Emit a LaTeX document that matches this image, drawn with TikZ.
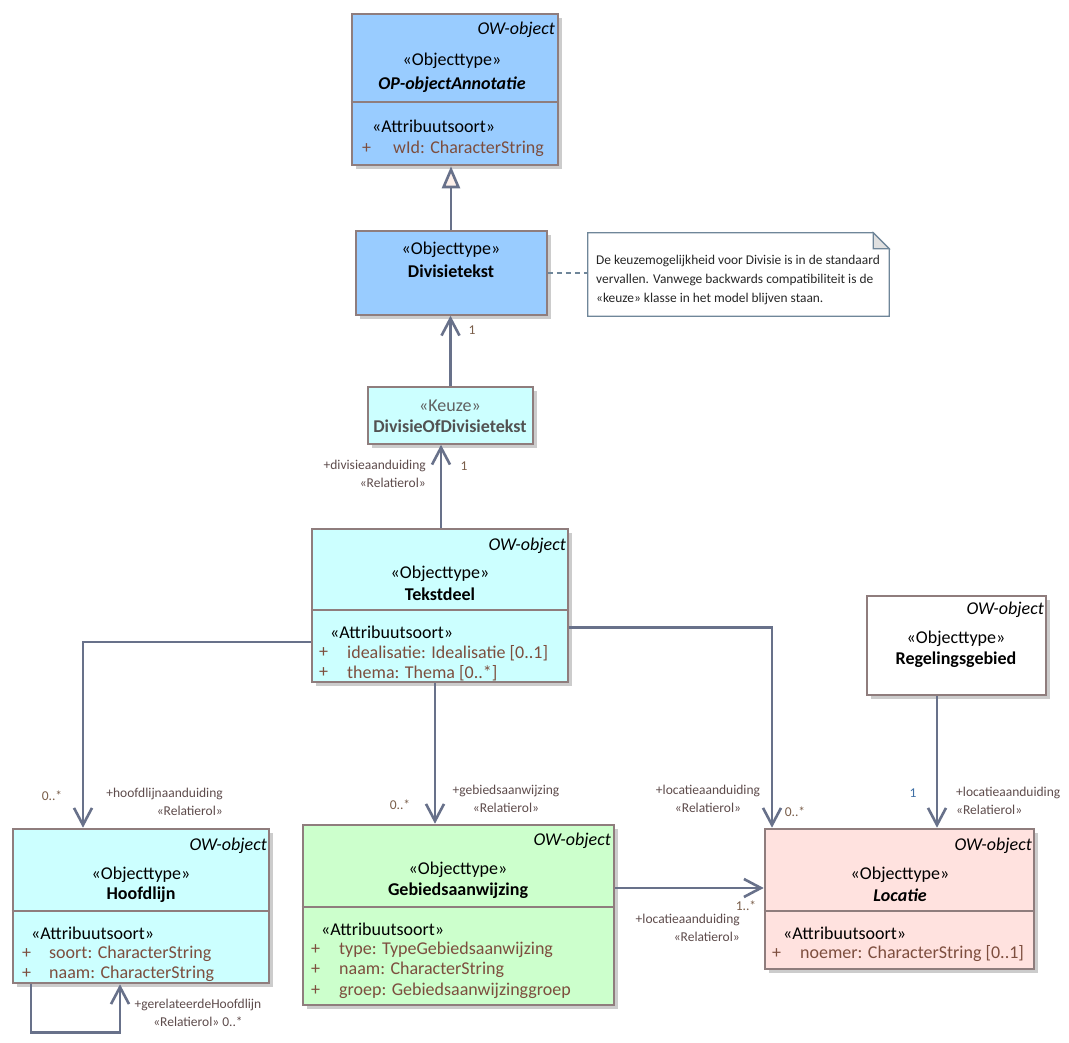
\documentclass[tikz,border=0pt]{standalone}
\usepackage{fontspec}
\setmainfont{Carlito}
\usetikzlibrary{arrows.meta,positioning,shadows}
\definecolor{umlline}{HTML}{68718A}
\definecolor{umlborder}{HTML}{8F7D7D}
\definecolor{fillblue}{HTML}{99CCFF}
\definecolor{fillcyan}{HTML}{CCFFFF}
\definecolor{fillgreen}{HTML}{CCFFCC}
\definecolor{fillpink}{HTML}{FFE2DF}
\definecolor{attrbrown}{HTML}{7D4E3E}
\definecolor{rolegray}{HTML}{5E4C4C}
\definecolor{multbrown}{HTML}{7A5E4A}
\definecolor{multblue}{HTML}{3F6FA5}
\definecolor{noteline}{HTML}{6F8699}
\definecolor{trifill}{HTML}{FDF0EA}

\begin{document}
\begin{tikzpicture}[x=1pt, y=-1pt,
  owclass/.style={draw=umlborder, line width=2.6pt, inner sep=0pt, drop shadow={shadow xshift=4pt, shadow yshift=-4pt, fill=black!20, opacity=1}},
  plainclass/.style={draw=umlborder, line width=1.6pt, inner sep=0pt, drop shadow={shadow xshift=4pt, shadow yshift=-4pt, fill=black!20, opacity=1}},
  divider/.style={draw=umlborder, line width=2.6pt},
  owtag/.style={font=\fontsize{18}{21}\selectfont\itshape, inner sep=0pt, anchor=east},
  stereo/.style={font=\fontsize{18}{21}\selectfont, inner sep=0pt},
  cname/.style={font=\fontsize{18}{21}\selectfont\bfseries, inner sep=0pt},
  attr/.style={font=\fontsize{18}{21}\selectfont, text=attrbrown, inner sep=0pt, anchor=west},
  role/.style={font=\fontsize{13.5}{18}\selectfont, text=rolegray, inner sep=0pt},
  mult/.style={font=\fontsize{13.5}{18}\selectfont, text=multbrown, inner sep=0pt},
  notetext/.style={font=\fontsize{13.4}{19}\selectfont, text=black!85, inner sep=0pt, align=left, anchor=west},
  assoc/.style={draw=umlline, line width=2.6pt, -{Straight Barb[length=17pt,width=18pt]}},
  gener/.style={draw=umlline, line width=2.6pt, -{Triangle[length=22pt,width=18pt,fill=trifill]}},
  noteanchor/.style={draw=noteline, line width=1.2pt, dash pattern=on 5pt off 4pt},
]
\useasboundingbox[fill=white] (0,0) rectangle (1069,1043);

\node[owclass, fill=fillblue, minimum width=206pt, minimum height=151pt] (nAnnot) at (455,89.5) {};
\draw[divider] (nAnnot.west |- 0,102) -- (nAnnot.east |- 0,102);
\node[owtag] (tAnnotOw) at (555,30) {OW-object};
\node[stereo] (tAnnotSt) at (452,61) {«Objecttype»};
\node[cname] (tAnnotNm) at (452,85) {\itshape OP-objectAnnotatie};
\node[stereo, anchor=west] (tAnnotAs) at (372,126) {«Attribuutsoort»};
\node[attr] (tAnnotP1) at (362,149) {+};
\node[attr] (tAnnotA1) at (393,149) {wId: CharacterString};

\node[plainclass, fill=fillblue, minimum width=191pt, minimum height=84pt] (nDivi) at (451.5,273) {};
\node[stereo] (tDiviSt) at (451,250) {«Objecttype»};
\node[cname] (tDiviNm) at (451,271) {Divisietekst};

\node[fill=white, minimum width=301pt, minimum height=83pt, inner sep=0pt] (nNote) at (738.5,274.5) {};
\draw[draw=noteline, line width=1.2pt] (nNote.south west) -- (nNote.north west) -- ([xshift=-16pt]nNote.north east) -- ([yshift=-16pt]nNote.north east) -- (nNote.south east) -- cycle;
\draw[draw=noteline, line width=1.2pt, fill=black!12] ([xshift=-16pt]nNote.north east) -- ([xshift=-16pt,yshift=-16pt]nNote.north east) -- ([yshift=-16pt]nNote.north east) -- cycle;
\node[notetext] (tNote) at (596,280) {De keuzemogelijkheid voor Divisie is in de standaard\\vervallen. Vanwege backwards compatibiliteit is de\\«keuze» klasse in het model blijven staan.};
\draw[noteanchor] (nDivi.east) -- (nNote.west |- nDivi.east);

\node[plainclass, fill=fillcyan, minimum width=165pt, minimum height=57pt] (nKeuze) at (450.5,415.5) {};
\node[stereo, text=black!62] (tKeuzeSt) at (450,406) {«Keuze»};
\node[cname, text=black!68] (tKeuzeNm) at (450,426) {DivisieOfDivisietekst};

\node[owclass, fill=fillcyan, minimum width=256pt, minimum height=153pt] (nTekst) at (440,605.5) {};
\draw[divider] (nTekst.west |- 0,610) -- (nTekst.east |- 0,610);
\node[owtag] (tTekstOw) at (566,546) {OW-object};
\node[stereo] (tTekstSt) at (440,574) {«Objecttype»};
\node[cname] (tTekstNm) at (440,594) {Tekstdeel};
\node[stereo, anchor=west] (tTekstAs) at (330,632) {«Attribuutsoort»};
\node[attr] (tTekstP1) at (319,653) {+};
\node[attr] (tTekstA1) at (347,653) {idealisatie: Idealisatie [0..1]};
\node[attr] (tTekstP2) at (319,673) {+};
\node[attr] (tTekstA2) at (347,673) {thema: Thema [0..*]};

\node[plainclass, fill=white, minimum width=179pt, minimum height=99pt] (nRegel) at (956.5,645.5) {};
\node[owtag] (tRegelOw) at (1044,610) {OW-object};
\node[stereo] (tRegelSt) at (956,639) {«Objecttype»};
\node[cname] (tRegelNm) at (956,660) {Regelingsgebied};

\node[owclass, fill=fillcyan, minimum width=256pt, minimum height=154pt] (nHoofd) at (141,906) {};
\draw[divider] (nHoofd.west |- 0,911) -- (nHoofd.east |- 0,911);
\node[owtag] (tHoofdOw) at (267,846) {OW-object};
\node[stereo] (tHoofdSt) at (141,875) {«Objecttype»};
\node[cname] (tHoofdNm) at (141,895) {Hoofdlijn};
\node[stereo, anchor=west] (tHoofdAs) at (31,933) {«Attribuutsoort»};
\node[attr] (tHoofdP1) at (22,954) {+};
\node[attr] (tHoofdA1) at (49,954) {soort: CharacterString};
\node[attr] (tHoofdP2) at (22,974) {+};
\node[attr] (tHoofdA2) at (49,974) {naam: CharacterString};

\node[owclass, fill=fillgreen, minimum width=311pt, minimum height=180pt] (nGebied) at (458.5,915) {};
\draw[divider] (nGebied.west |- 0,907) -- (nGebied.east |- 0,907);
\node[owtag] (tGebiedOw) at (611,841) {OW-object};
\node[stereo] (tGebiedSt) at (458,870) {«Objecttype»};
\node[cname] (tGebiedNm) at (458,891) {Gebiedsaanwijzing};
\node[stereo, anchor=west] (tGebiedAs) at (321,929) {«Attribuutsoort»};
\node[attr] (tGebiedP1) at (311,950) {+};
\node[attr] (tGebiedA1) at (339,950) {type: TypeGebiedsaanwijzing};
\node[attr] (tGebiedP2) at (311,970) {+};
\node[attr] (tGebiedA2) at (339,970) {naam: CharacterString};
\node[attr] (tGebiedP3) at (311,991) {+};
\node[attr] (tGebiedA3) at (339,991) {groep: Gebiedsaanwijzinggroep};

\node[owclass, fill=fillpink, minimum width=269pt, minimum height=140pt] (nLoc) at (899.5,899) {};
\draw[divider] (nLoc.west |- 0,911) -- (nLoc.east |- 0,911);
\node[owtag] (tLocOw) at (1032,846) {OW-object};
\node[stereo] (tLocSt) at (900,875) {«Objecttype»};
\node[cname] (tLocNm) at (900,895) {\itshape Locatie};
\node[stereo, anchor=west] (tLocAs) at (783,933) {«Attribuutsoort»};
\node[attr] (tLocP1) at (772,954) {+};
\node[attr] (tLocA1) at (800,954) {noemer: CharacterString [0..1]};

\draw[gener] (nDivi.north -| 451,0) -- (nAnnot.south -| 451,0);
\draw[assoc] (nKeuze.north) -- (nKeuze.north |- nDivi.south);
\draw[assoc] ([xshift=1pt]nTekst.north) -- ([xshift=1pt]nTekst.north |- nKeuze.south);
\draw[assoc] ([yshift=-36.5pt]nTekst.west) -| ([xshift=-58pt]nHoofd.north);
\draw[assoc] ([xshift=-5pt]nTekst.south) -- ([xshift=-5pt]nTekst.south |- nGebied.north);
\draw[assoc] ([yshift=-22pt]nTekst.east) -| ([xshift=-127.5pt]nLoc.north);
\draw[assoc] ([xshift=-19.5pt]nRegel.south) -- ([xshift=-19.5pt]nRegel.south |- nLoc.north);
\draw[assoc] ([yshift=27pt]nGebied.east) -- (nLoc.west |- 0,888);
\draw[assoc] ([xshift=-110pt]nHoofd.south) -- ++(0,48) -| ([xshift=-21pt]nHoofd.south);

\node[mult] (mDivi) at (472,330) {1};
\node[role, align=right, anchor=east] (rKeuze) at (426,474) {+divisieaanduiding\\«Relatierol»};
\node[mult] (mKeuze) at (464,466) {1};
\node[mult] (mHoofd) at (52,796) {0..*};
\node[role, align=right, anchor=east] (rHoofd) at (223,802) {+hoofdlijnaanduiding\\«Relatierol»};
\node[mult] (mGebied) at (400,805) {0..*};
\node[role, align=center] (rGebied) at (506,799) {+gebiedsaanwijzing\\«Relatierol»};
\node[role, align=center] (rLocA) at (708,799) {+locatieaanduiding\\«Relatierol»};
\node[mult] (mLocA) at (795,812) {0..*};
\node[mult, text=multblue] (mLocB) at (913,793) {1};
\node[role, align=left, anchor=west] (rLocB) at (956,801) {+locatieaanduiding\\«Relatierol»};
\node[mult] (mLocC) at (746,906) {1..*};
\node[role, align=right, anchor=east] (rLocC) at (740,928) {+locatieaanduiding\\«Relatierol»};
\node[role, align=center] (rSelf) at (198,1013) {+gerelateerdeHoofdlijn\\«Relatierol» 0..*};
\end{tikzpicture}
\end{document}
